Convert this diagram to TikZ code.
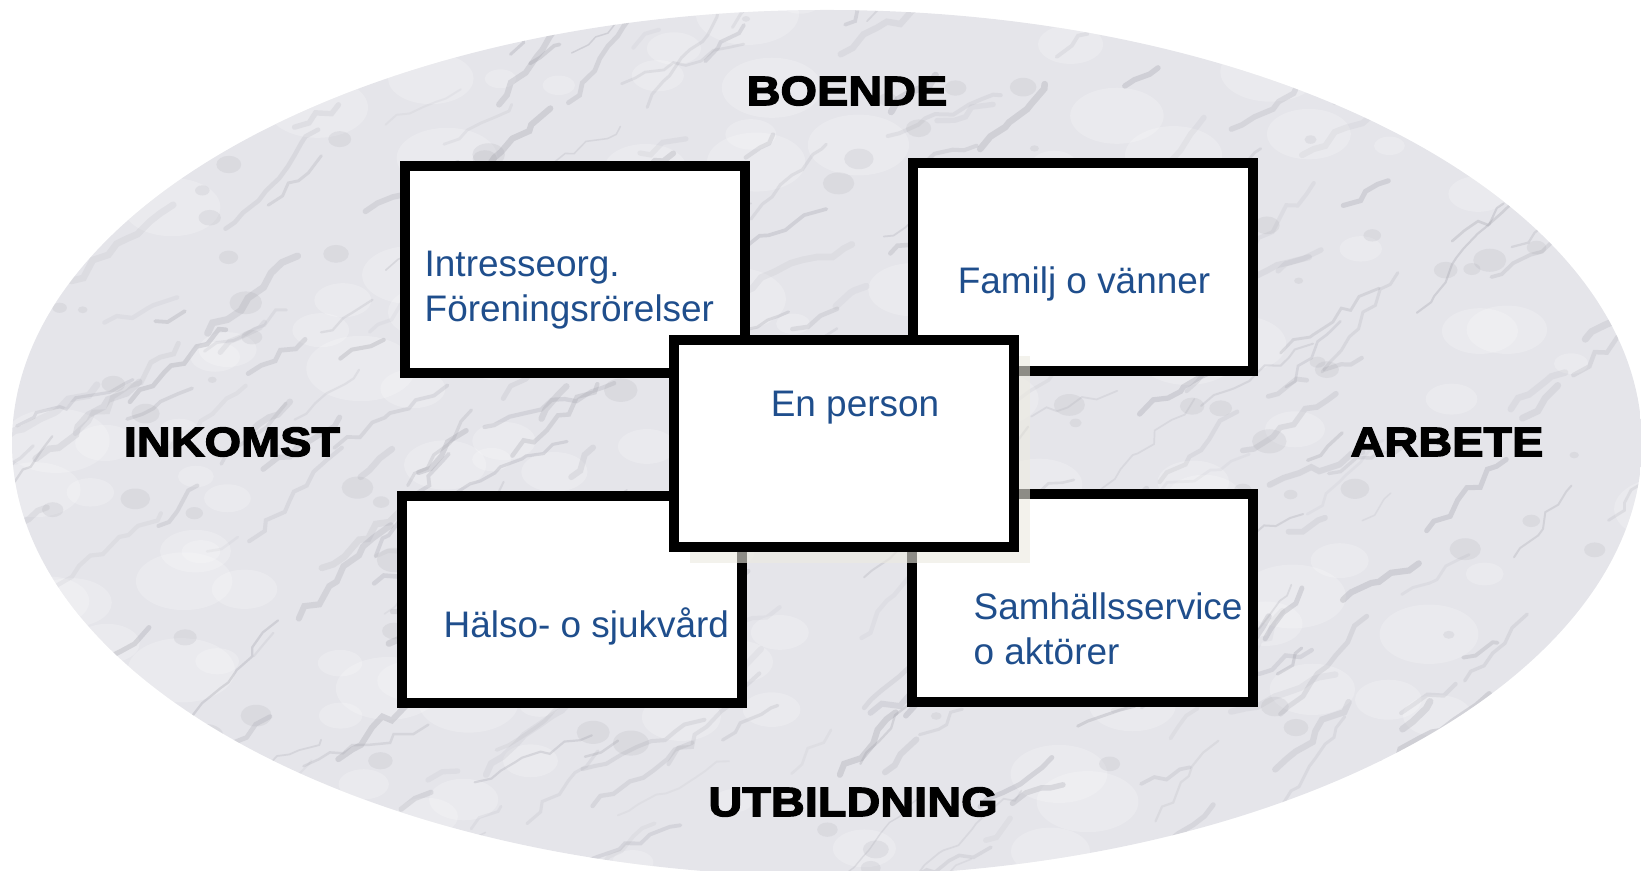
\documentclass[tikz,border=0pt]{standalone}
\usepackage{fontspec}
\setmainfont{Liberation Sans}
\newfontfamily\headfont{Liberation Sans}[UprightFont=* Bold,FakeStretch=1.14,FakeBold=3]
\usetikzlibrary{decorations.pathmorphing}

\definecolor{textblue}{HTML}{1F4E8C}
\definecolor{marble}{HTML}{E5E5EA}
\definecolor{vein}{HTML}{9C9CA6}
\definecolor{shadowcol}{HTML}{ECEAE0}

\begin{document}
\begin{tikzpicture}[
  x=0.01cm, y=-0.01cm,
  area/.style={font=\headfont\fontsize{11.7pt}{14pt}\selectfont},
  field/.style={draw=black,line width=2.85pt,fill=white,minimum width=3.4cm,minimum height=2.07cm,inner sep=0pt},
  fieldtext/.style={text=textblue,font=\fontsize{10.5pt}{12.8pt}\selectfont,align=left,inner sep=0pt},
  shade/.style={fill=shadowcol,opacity=0.6,minimum width=3.4cm,minimum height=2.07cm,inner sep=0pt},
  veinline/.style={vein,line cap=round,decorate,decoration={random steps,segment length=4pt,amplitude=1.5pt}}]

  \useasboundingbox (0,0) rectangle (1641,871);

  % marble ellipse
  \begin{scope}
    \clip (0,0) rectangle (1641,871);
    \clip (827,443) ellipse [x radius=815,y radius=433];
    \fill[marble] (0,0) rectangle (1641,871);
    \pgfmathsetseed{7}
    \foreach \i in {1,...,160}{
      \pgfmathsetmacro{\bx}{rnd*1700-30}
      \pgfmathsetmacro{\by}{rnd*900-15}
      \pgfmathsetmacro{\br}{15+rnd*40}
      \fill[white,opacity=0.2] (\bx,\by) ellipse [x radius=\br,y radius=0.6*\br];
    }
    \foreach \i in {1,...,120}{
      \pgfmathsetmacro{\bx}{rnd*1700-30}
      \pgfmathsetmacro{\by}{rnd*900-15}
      \pgfmathsetmacro{\br}{4+rnd*14}
      \fill[vein,opacity=0.15] (\bx,\by) ellipse [x radius=\br,y radius=0.7*\br];
    }
    \foreach \i in {1,...,320}{
      \pgfmathsetmacro{\vx}{rnd*1700-30}
      \pgfmathsetmacro{\vy}{rnd*900-15}
      \pgfmathsetmacro{\vl}{30+rnd*110}
      \pgfmathsetmacro{\va}{15+rnd*40}
      \pgfmathsetmacro{\vw}{0.4+rnd*1.6}
      \pgfmathsetmacro{\vo}{0.08+rnd*0.22}
      \draw[veinline,line width=\vw pt,opacity=\vo] (\vx,\vy) -- ++(-\va:\vl);
    }
  \end{scope}

  % the five boxes
  \node[field] (interest) at (575,269.5) {};
  \node[field] (family) at (1083,267) {};
  \node[field] (health) at (572,599.5) {};
  \node[field] (service) at (1082.5,598) {};
  \node[shade] (personshadow) at (860,459.5) {};
  \node[field] (person) at (844,443.5) {};

  % texts in the boxes
  \node[fieldtext,anchor=base west] (interesttext) at (424,322) {Intresseorg.\\Föreningsrörelser};
  \node[fieldtext,anchor=base] (familytext) at (1084,294) {Familj o vänner};
  \node[fieldtext,anchor=base] (persontext) at (855,417) {En person};
  \node[fieldtext,anchor=base west] (healthtext) at (443,638) {Hälso- o sjukvård};
  \node[fieldtext,anchor=base west] (servicetext) at (973,665) {Samhällsservice\\o aktörer};

  % the four areas
  \node[area] (housing) at (847,91) {BOENDE};
  \node[area] (income) at (232,442) {INKOMST};
  \node[area] (work) at (1447,442) {ARBETE};
  \node[area] (education) at (853,802) {UTBILDNING};
\end{tikzpicture}
\end{document}
